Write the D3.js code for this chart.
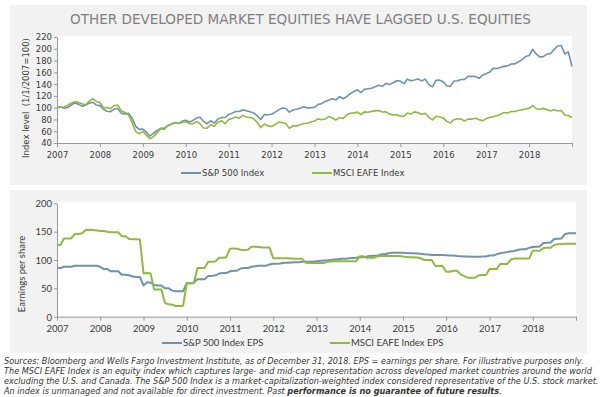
<!DOCTYPE html>
<html>
<head>
<meta charset="utf-8">
<script src="https://cdn.jsdelivr.net/npm/d3@7"></script>
<style>
  body { margin: 0; background: #fff; }
  svg { display: block; }
</style>
</head>
<body>
<svg id="chart" width="608" height="397"></svg>
<script>
// index levels, start of each month Jan 2007 .. Jan 2019 (1/1/2007 = 100)
const spxIndex = [
  100.0, 101.4, 99.2, 100.2, 104.5, 108.0, 106.0, 102.6, 104.0, 107.7, 109.2, 104.4,
  103.5, 97.3, 93.9, 93.3, 97.7, 98.7, 90.3, 89.4, 90.5, 82.2, 68.3, 63.2,
  63.7, 58.2, 51.8, 56.3, 61.5, 64.8, 64.8, 69.6, 72.0, 74.5, 73.0, 77.3,
  78.6, 75.7, 77.9, 82.4, 83.7, 76.8, 72.7, 77.7, 74.0, 80.5, 83.4, 83.3,
  88.7, 90.7, 93.6, 93.5, 96.2, 94.8, 93.1, 91.1, 86.0, 79.8, 88.4, 87.9,
  88.7, 92.5, 96.3, 99.3, 98.6, 92.4, 96.0, 97.2, 99.2, 101.6, 99.6, 99.9,
  100.6, 105.6, 106.8, 110.6, 112.7, 115.0, 113.3, 118.9, 115.2, 118.6, 123.9, 127.4,
  130.3, 125.7, 131.1, 132.0, 132.9, 135.7, 138.2, 136.2, 141.3, 139.1, 142.3, 145.8,
  145.2, 140.7, 148.4, 145.8, 147.1, 148.6, 145.5, 148.4, 139.1, 135.4, 146.6, 146.7,
  144.1, 136.8, 136.2, 145.3, 145.6, 147.9, 148.0, 153.3, 153.1, 152.9, 149.9, 155.1,
  157.9, 160.7, 166.7, 166.6, 168.1, 170.1, 170.9, 174.2, 174.3, 177.6, 181.6, 186.7,
  188.6, 199.2, 191.4, 186.2, 186.7, 190.8, 191.7, 198.6, 204.7, 205.5, 191.3, 194.6,
  170.0
];
const eafeIndex = [
  100.0, 100.7, 101.2, 103.5, 108.1, 110.1, 109.0, 106.7, 104.9, 110.9, 115.2, 110.6,
  108.7, 99.5, 100.3, 98.3, 103.3, 104.3, 94.9, 91.8, 87.3, 74.9, 59.2, 55.4,
  59.6, 53.0, 47.2, 50.9, 57.1, 64.7, 63.0, 69.2, 72.5, 74.9, 73.4, 74.8,
  76.2, 73.1, 72.4, 76.4, 73.3, 65.5, 65.0, 71.1, 68.6, 75.2, 77.9, 72.7,
  80.0, 81.8, 84.3, 82.1, 86.9, 84.2, 83.3, 81.6, 74.7, 66.2, 72.3, 69.1,
  68.1, 71.5, 75.4, 74.9, 73.1, 64.8, 69.3, 69.1, 70.9, 73.0, 73.6, 75.6,
  77.3, 81.0, 79.5, 80.7, 84.9, 82.5, 79.1, 83.2, 81.7, 87.6, 90.5, 91.2,
  92.4, 88.1, 92.9, 92.3, 93.7, 94.5, 95.0, 92.6, 92.8, 89.0, 87.5, 87.8,
  85.6, 85.5, 90.9, 89.1, 92.8, 91.5, 88.8, 90.5, 83.6, 79.2, 85.3, 84.0,
  82.7, 76.7, 74.2, 79.6, 81.3, 80.5, 77.5, 80.8, 80.6, 82.0, 79.7, 77.9,
  81.2, 83.7, 84.4, 86.4, 88.6, 91.8, 90.8, 93.4, 93.4, 95.1, 96.6, 97.6,
  98.9, 103.5, 98.6, 96.7, 98.8, 96.7, 94.4, 96.6, 94.4, 95.1, 87.5, 86.8,
  82.9
];

// earnings per share, same months
const spxEps = [
  86, 86, 88, 88, 88, 90, 90, 90, 90, 90, 90, 90,
  88, 84, 84, 80, 80, 80, 74, 74, 73, 71, 70, 70,
  55, 61, 60, 56, 55, 55, 50, 50, 46, 45, 45, 45,
  59, 59, 60, 66, 66, 66, 72, 72, 73, 76, 77, 77,
  80, 81, 81, 85, 86, 86, 88, 89, 90, 90, 90, 92,
  93.5, 93.5, 94, 95, 95, 95.5, 96, 96, 97, 97, 97, 97,
  98, 98.5, 99, 99, 100, 101, 101.5, 102, 102, 103, 103.5, 104,
  105, 105, 106, 107, 107.5, 108, 110, 110, 112, 113, 113, 113,
  113, 112.5, 112, 112, 111.5, 111, 110, 109.5, 109, 109, 109, 108.8,
  108.5, 108, 108, 107, 106.5, 106, 106, 105.8, 105.8, 105.8, 106, 106,
  108, 108, 110, 112, 113, 114, 115.5, 116, 118, 119, 119, 121.5,
  123, 123.5, 124, 130, 130.5, 131, 137, 137.5, 138, 146, 147, 147,
  147
];
const eafeEps = [
  126, 127, 138, 138, 138, 146, 146, 147, 153, 153.5, 153, 152,
  151, 151, 150, 149, 149, 149, 142, 142, 137, 136.5, 136.5, 136,
  76, 77, 76, 48, 48, 48, 24, 22, 21, 19, 19, 19.5,
  59, 59, 59, 86, 86, 86, 97, 97, 97.5, 104, 104, 105,
  120, 120.5, 120, 118, 117.5, 118, 123.5, 123.5, 123, 122, 122, 122,
  103, 103, 103, 103, 103, 102.5, 102, 102, 102, 95, 94.7, 94.7,
  94.7, 94.7, 94.7, 97, 97.5, 97.6, 97.6, 97.6, 97.6, 97.6, 97.6, 98,
  106.4, 106.4, 104, 104, 104, 106.4, 107, 107, 107, 107, 107, 107,
  106, 105.5, 105, 105, 104.5, 103, 100, 100, 100, 89.4, 89.4, 89.4,
  79.4, 79.4, 81, 81, 74.7, 71.7, 68.8, 68.8, 68.8, 73, 73.5, 73.5,
  84, 84, 84, 93, 93, 93, 101, 102.5, 102.5, 102.5, 102.5, 102.5,
  116.4, 116.4, 116.4, 121, 121.7, 121.7, 126.4, 127.6, 128, 128.5, 128.8, 128.8,
  128.8
];

const indexTicks = [40, 60, 80, 100, 120, 140, 160, 180, 200, 220];
const epsTicks = [0, 50, 100, 150, 200];
const years = d3.timeYear.range(new Date(2007, 0, 1), new Date(2019, 0, 2));

const title = "OTHER DEVELOPED MARKET EQUITIES HAVE LAGGED U.S. EQUITIES";
const topLegend = ["S&P 500 Index", "MSCI EAFE Index"];
const bottomLegend = ["S&P 500 Index EPS", "MSCI EAFE Index EPS"];
const notes = [
  "Sources: Bloomberg and Wells Fargo Investment Institute, as of December 31, 2018. EPS = earnings per share. For illustrative purposes only.",
  "The MSCI EAFE Index is an equity index which captures large- and mid-cap representation across developed market countries around the world",
  "excluding the U.S. and Canada. The S&P 500 Index is a market-capitalization-weighted index considered representative of the U.S. stock market."
];
const lastNote = ["An index is unmanaged and not available for direct investment. Past ", "performance is no guarantee of future results", "."];

const blue = "#7092ad";
const green = "#8fba3f";
const axisCol = "#9a9a9a";
const textCol = "#3a3a3a";
const verdana = "Verdana, 'DejaVu Sans', sans-serif";
const calibri = "Lato, 'Open Sans', sans-serif";

const months = d3.timeMonth.range(new Date(2007, 0, 1), new Date(2019, 0, 2));
const svg = d3.select("#chart");

// panels
svg.append("rect").attr("x", 10).attr("y", 5).attr("width", 577).attr("height", 180).attr("fill", "#f2f2f2");
svg.append("rect").attr("x", 10).attr("y", 190).attr("width", 577).attr("height", 163).attr("fill", "#f2f2f2");

svg.append("text")
  .attr("x", 300.5).attr("y", 24)
  .attr("text-anchor", "middle")
  .attr("font-family", "'DejaVu Sans Condensed', 'DejaVu Sans', sans-serif")
  .attr("font-stretch", "condensed")
  .attr("font-size", 13.5)
  .attr("fill", "#7f7f7f")
  .attr("textLength", 461)
  .attr("lengthAdjust", "spacingAndGlyphs")
  .text(title);

function drawPanel(opt) {
  const x = d3.scaleTime([new Date(2007, 0, 1), new Date(2019, 0, 1)], [57, opt.right]);
  const y = d3.scaleLinear(opt.domain, [opt.bottom, opt.top]);

  svg.append("rect")
    .attr("x", 57).attr("y", opt.top - 1)
    .attr("width", opt.right - 57).attr("height", opt.bottom - opt.top + 1)
    .attr("fill", "#fff");

  const gx = svg.append("g")
    .attr("transform", `translate(0,${opt.bottom})`)
    .call(d3.axisBottom(x).tickValues(years).tickSize(4).tickSizeOuter(0)
      .tickFormat(d => d.getFullYear() < 2019 ? d3.timeFormat("%Y")(d) : ""));
  const gy = svg.append("g")
    .attr("transform", "translate(57,0)")
    .call(d3.axisLeft(y).tickValues(opt.ticks).tickSize(3).tickSizeOuter(0));

  [gx, gy].forEach(g => {
    g.select(".domain").attr("stroke", axisCol);
    g.selectAll(".tick line").attr("stroke", axisCol);
    g.selectAll(".tick text")
      .attr("font-family", opt.font).attr("font-size", opt.fontSize)
      .attr("fill", textCol);
  });
  gx.selectAll(".tick text").attr("dy", opt.xdy);
  gy.selectAll(".tick text").attr("x", -5).attr("dy", "0.35em");

  svg.append("text")
    .attr("transform", `translate(${opt.labelX},${opt.labelY}) rotate(-90)`)
    .attr("text-anchor", "middle")
    .attr("font-family", opt.font).attr("font-size", opt.labelSize)
    .attr("fill", textCol)
    .attr("xml:space", "preserve")
    .text(opt.label);

  const line = d3.line().x((d, i) => x(months[i])).y(d => y(d));
  opt.series.forEach(s => {
    svg.append("path")
      .datum(s.values)
      .attr("d", line)
      .attr("fill", "none")
      .attr("stroke", s.color)
      .attr("stroke-width", opt.lineWidth)
      .attr("stroke-linejoin", "round");
  });

  opt.legend.forEach((l, i) => {
    const g = svg.append("g").attr("transform", `translate(${l.x},${opt.legendY})`);
    g.append("line").attr("x1", 0).attr("x2", 20).attr("stroke", opt.series[i].color).attr("stroke-width", 2);
    g.append("text").attr("x", 21).attr("dy", "0.35em")
      .attr("font-family", opt.font).attr("font-size", opt.legendSize)
      .attr("fill", textCol)
      .text(l.name);
  });
}

drawPanel({
  right: 572, top: 37, bottom: 143, domain: [40, 220], ticks: indexTicks,
  font: verdana, fontSize: 8.5, xdy: "0.9em", labelSize: 8.5,
  label: "Index level  (1/1/2007=100)", labelX: 29, labelY: 98,
  lineWidth: 1.6,
  series: [{values: spxIndex, color: blue}, {values: eafeIndex, color: green}],
  legendY: 173, legendSize: 8.5,
  legend: [{x: 181, name: topLegend[0]}, {x: 312, name: topLegend[1]}]
});

drawPanel({
  right: 576, top: 203.3, bottom: 316.7, domain: [0, 200], ticks: epsTicks,
  font: calibri, fontSize: 9.5, xdy: "0.9em", labelSize: 9.5,
  label: "Earnings per share", labelX: 25, labelY: 274,
  lineWidth: 2,
  series: [{values: spxEps, color: blue}, {values: eafeEps, color: green}],
  legendY: 343, legendSize: 9.5,
  legend: [{x: 162, name: bottomLegend[0]}, {x: 330, name: bottomLegend[1]}]
});

// footnote
const noteG = svg.append("g")
  .attr("font-family", verdana)
  .attr("font-style", "italic")
  .attr("fill", "#333");
const lines = notes.map((t, i) => noteG.append("text").attr("x", 4).attr("y", 364 + i * 10).text(t));
const last = noteG.append("text").attr("x", 4).attr("y", 394);
last.append("tspan").text(lastNote[0]);
last.append("tspan").attr("font-weight", "bold").text(lastNote[1]);
last.append("tspan").text(lastNote[2]);

noteG.attr("font-size", 10);
const w = lines[2].node().getComputedTextLength();
noteG.attr("font-size", 10 * 595 / w);
</script>
</body>
</html>
